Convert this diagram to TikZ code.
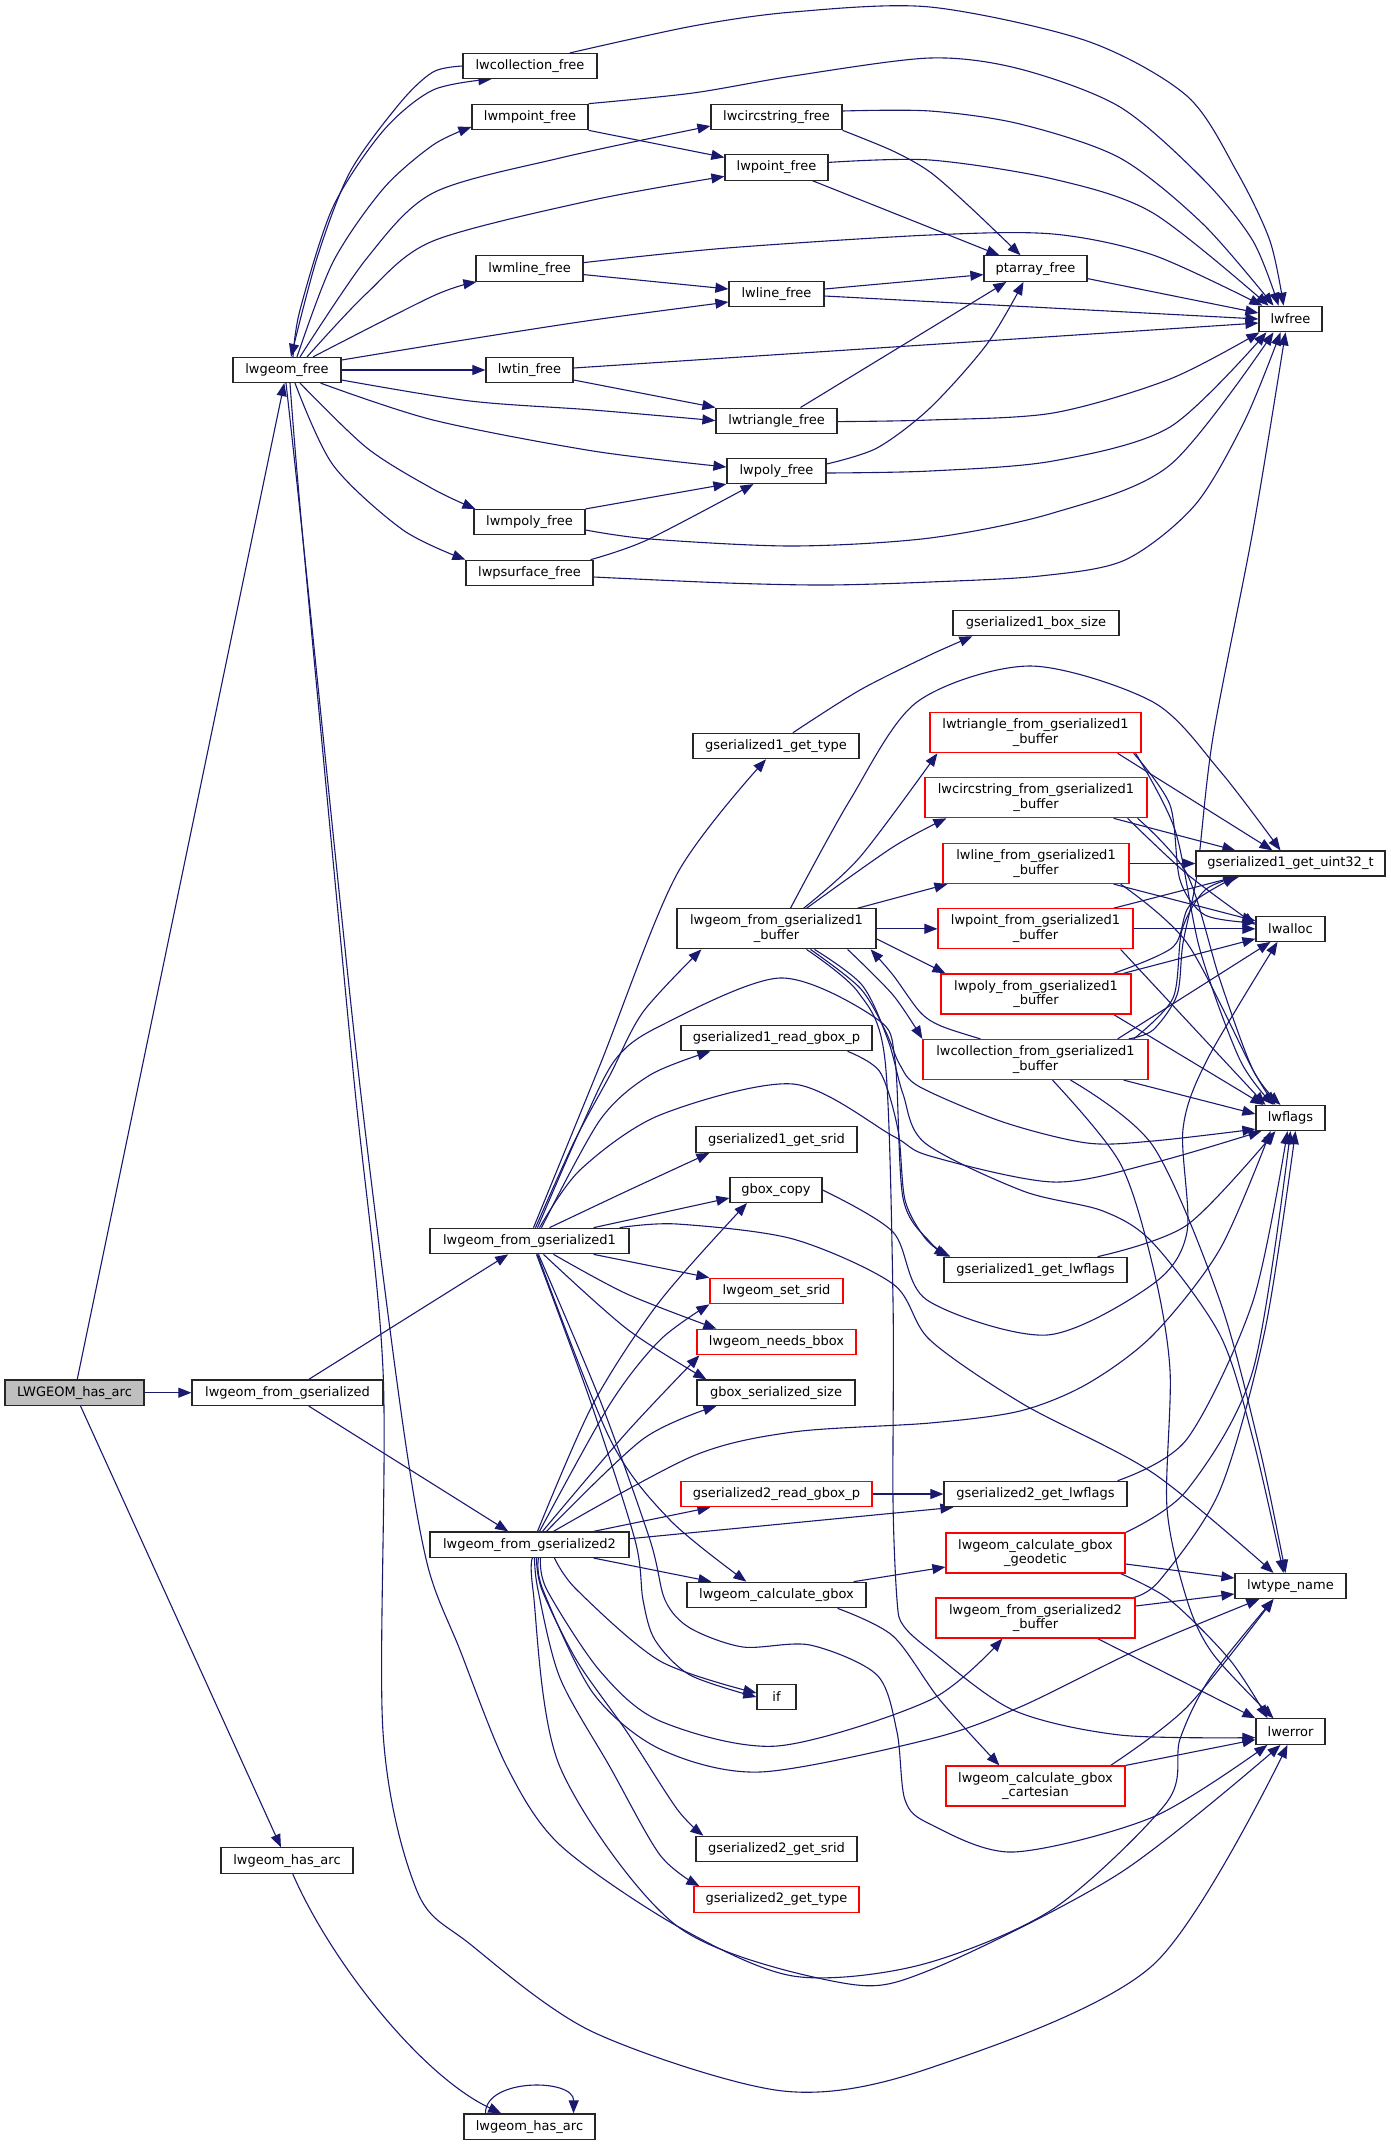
\documentclass[tikz,border=0pt]{standalone}
\usepackage{fontspec}
\setmainfont{DejaVu Sans}
\usetikzlibrary{arrows.meta,calc}
\definecolor{edgecol}{HTML}{191970}
\definecolor{boxgray}{HTML}{BFBFBF}
\definecolor{boxred}{HTML}{FF0000}
\newcommand\gfont{\fontsize{13}{14.5}\selectfont}
\newcommand\bx[6]{\node[nb,minimum width=#4,minimum height=#5] (#1) at (#2,#3) {#6};}
\newcommand\rbx[6]{\node[nb,draw=boxred,minimum width=#4,minimum height=#5] (#1) at (#2,#3) {#6};}
\newcommand\pedge[1]{\draw[edg] plot[smooth] coordinates {#1};}
\pgfdeclarelayer{bg}
\pgfsetlayers{bg,main}
\begin{document}
\begin{tikzpicture}[x=1pt,y=-1pt,
  nb/.style={draw=black!85,line width=1.2pt,fill=white,inner sep=0pt,align=center,font=\gfont},
  edg/.style={draw=edgecol,line width=1.1pt,-{Triangle[length=13pt,width=10pt]}}]
\useasboundingbox (0,0) rectangle (1391,2145);
% nodes
\node[nb,fill=boxgray,minimum width=139,minimum height=25.5] (LHA) at (74.5,1392.7) {LWGEOM\_has\_arc};
\bx{lfree}{287}{370}{108}{25}{lwgeom\_free}
\bx{lfg}{287.5}{1392.7}{191}{25.5}{lwgeom\_from\_gserialized}
\bx{lha1}{287}{1860.6}{132}{25.5}{lwgeom\_has\_arc}
\bx{collf}{530}{66}{134}{25}{lwcollection\_free}
\bx{mpointf}{530}{117}{116}{25.5}{lwmpoint\_free}
\bx{mlinef}{529.5}{268.6}{107}{25.5}{lwmline\_free}
\bx{tinf}{529.5}{370}{87}{25}{lwtin\_free}
\bx{mpolyf}{529.5}{522}{111}{25}{lwmpoly\_free}
\bx{psurff}{529.5}{573}{127}{25.5}{lwpsurface\_free}
\bx{lfg1}{529.5}{1241}{199}{25.5}{lwgeom\_from\_gserialized1}
\bx{lfg2}{529.5}{1544.7}{199}{25.5}{lwgeom\_from\_gserialized2}
\bx{lha2}{529.5}{2126.7}{131}{25.5}{lwgeom\_has\_arc}
\bx{circf}{776.5}{117}{131}{25.5}{lwcircstring\_free}
\bx{pointf}{776.5}{167.4}{103}{25.5}{lwpoint\_free}
\bx{linef}{776.5}{294}{95}{25}{lwline\_free}
\bx{trif}{776.5}{420.6}{121}{25}{lwtriangle\_free}
\bx{polyf}{776.5}{471}{99}{25}{lwpoly\_free}
\bx{g1type}{776}{746}{166}{25.5}{gserialized1\_get\_type}
\bx{g1buf}{776.5}{928.8}{199}{40}{lwgeom\_from\_gserialized1\\\_buffer}
\bx{g1rgb}{776.5}{1038}{191}{25.5}{gserialized1\_read\_gbox\_p}
\bx{g1srid}{776.5}{1139.6}{161}{25.5}{gserialized1\_get\_srid}
\bx{gcopy}{776}{1190}{92}{25}{gbox\_copy}
\rbx{setsrid}{776.5}{1291}{133}{25.5}{lwgeom\_set\_srid}
\rbx{needsbbox}{776.5}{1342}{159}{25.5}{lwgeom\_needs\_bbox}
\bx{gbsize}{776}{1392.7}{158}{25.5}{gbox\_serialized\_size}
\rbx{g2rgb}{776.5}{1494}{191}{25.5}{gserialized2\_read\_gbox\_p}
\bx{calcgbox}{776.5}{1595}{179}{25.5}{lwgeom\_calculate\_gbox}
\bx{ifn}{776.5}{1697}{39}{25.5}{if}
\bx{g2srid}{776.5}{1849}{161}{25.5}{gserialized2\_get\_srid}
\rbx{g2type}{776.5}{1899.4}{165}{25.5}{gserialized2\_get\_type}
\bx{ptaf}{1035.5}{268.6}{103}{25.5}{ptarray\_free}
\bx{g1bsize}{1036}{623}{166}{25.5}{gserialized1\_box\_size}
\rbx{trifrom}{1035.5}{732.7}{211}{40}{lwtriangle\_from\_gserialized1\\\_buffer}
\rbx{circfrom}{1036}{797.7}{222}{40}{lwcircstring\_from\_gserialized1\\\_buffer}
\rbx{linefrom}{1036}{863.5}{186}{40}{lwline\_from\_gserialized1\\\_buffer}
\rbx{pointfrom}{1035.5}{928.8}{195}{40}{lwpoint\_from\_gserialized1\\\_buffer}
\rbx{polyfrom}{1036}{993.9}{190}{40}{lwpoly\_from\_gserialized1\\\_buffer}
\rbx{collfrom}{1035.5}{1059.5}{225}{40}{lwcollection\_from\_gserialized1\\\_buffer}
\bx{g1lwf}{1035.5}{1270}{183}{25.5}{gserialized1\_get\_lwflags}
\bx{g2lwf}{1035.5}{1494}{183}{25.5}{gserialized2\_get\_lwflags}
\rbx{geod}{1035.5}{1553}{179}{40}{lwgeom\_calculate\_gbox\\\_geodetic}
\rbx{g2buf}{1035.5}{1618}{199}{40}{lwgeom\_from\_gserialized2\\\_buffer}
\rbx{cart}{1035.5}{1786}{179}{40}{lwgeom\_calculate\_gbox\\\_cartesian}
\bx{lwfree}{1290.5}{319}{63}{25.5}{lwfree}
\bx{uint32}{1290.5}{863.5}{189}{25}{gserialized1\_get\_uint32\_t}
\bx{lwalloc}{1290.5}{928.8}{69}{25}{lwalloc}
\bx{lwflags}{1290.5}{1118}{69}{25}{lwflags}
\bx{ltn}{1290.5}{1586}{111}{25}{lwtype\_name}
\bx{lwerror}{1290.5}{1731.6}{69}{25.5}{lwerror}
\begin{pgfonlayer}{bg}
% lwgeom_free out
\pedge{($(lfree.north)+(6,0)$) (300,310) (333,207) (383,131) (433,90) ($(collf.south west)+(29,0)$)}
\pedge{(collf.west) (433,72) (400,103) (350,172) (317,258) ($(lfree.north)+(4,0)$)}
\pedge{($(lfree.north)+(10,0)$) (333,262) (383,189) (433,145) ($(mpointf.west)+(0,10)$)}
\pedge{($(lfree.north)+(13,0)$) (367,258) (433,193) (560,158) ($(circf.west)+(0,9)$)}
\pedge{($(lfree.north)+(20,0)$) (367,293) (433,241) (593,200) ($(pointf.west)+(0,9)$)}
\pedge{($(lfree.north)+(26,0)$) (433,296) ($(mlinef.south west)+(1,0)$)}
\pedge{($(lfree.east)+(0,-10)$) (470,339) (593,320) ($(linef.west)+(0,8)$)}
\draw[edg] (lfree) -- (tinf);
\pedge{($(lfree.east)+(0,10)$) (470,401) (593,410) (trif.west)}
\pedge{($(lfree.south east)+(-21,0)$) (433,420) (593,451) ($(polyf.west)+(0,-4)$)}
\pedge{($(lfree.south)+(13,0)$) (367,448) (433,489) ($(mpolyf.north west)+(2,0)$)}
\pedge{($(lfree.south)+(8,0)$) (333,465) (403,530) (psurff.north west)}
\pedge{($(lfree.south)+(3,0)$) (303,540) (353,1070) (383,1370) (383,1732) (417,1891) (470,1944) (593,2032) (783,2091) (930,2068) (1153,1965) ($(lwerror.south)+(-3,0)$)}
\pedge{($(lfree.south)+(-1,0)$) (303,540) (357,1060) (400,1404) (427,1563) (460,1650) (507,1767) (560,1845) (677,1926) (793,1976) (920,1965) (1053,1909) (1167,1802) (1180,1739) (1210,1678) ($(ltn.south)+(-17,0)$)}
% free functions
\pedge{($(collf.north)+(40,0)$) (693,26) (793,12) (930,7) (1087,41) (1187,96) (1237,172) (1270,241) ($(lwfree.north)+(-7,0)$)}
\pedge{(mpointf.north east) (693,93) (793,76) (930,58) (1020,69) (1120,107) (1203,179) (1253,241) ($(lwfree.north)+(-12,0)$)}
\pedge{($(circf.east)+(0,-6)$) (930,111) (1020,124) (1120,158) (1203,224) ($(lwfree.north)+(-17,0)$)}
\pedge{($(pointf.east)+(0,-5)$) (930,160) (1053,179) (1153,213) ($(lwfree.north)+(-22,0)$)}
\pedge{($(mlinef.east)+(0,-6)$) (727,248) (930,235) (1053,234) (1153,255) ($(lwfree.north west)+(4,0)$)}
\draw[edg] ($(linef.east)+(0,2)$) -- (lwfree.west);
\draw[edg] ($(linef.east)+(0,-5)$) -- ($(ptaf.west)+(0,6)$);
\draw[edg] ($(ptaf.east)+(0,10)$) -- ($(lwfree.west)+(0,-6)$);
\draw[edg] ($(tinf.east)+(0,-2)$) -- ($(lwfree.west)+(0,4)$);
\draw[edg] ($(tinf.east)+(0,10)$) -- (trif.north west);
\pedge{($(trif.east)+(0,1)$) (930,420) (1053,413) (1170,379) ($(lwfree.south west)+(1,0)$)}
\draw[edg] ($(trif.north)+(24,0)$) -- ($(ptaf.south west)+(23,0)$);
\pedge{($(polyf.east)+(0,2)$) (930,471) (1053,461) (1170,427) ($(lwfree.south west)+(8,0)$)}
\pedge{($(polyf.east)+(0,-7)$) (877,448) (930,408) (987,344) ($(ptaf.south)+(-12,0)$)}
\draw[edg] ($(pointf.south east)+(-16,0)$) -- ($(ptaf.north west)+(16,0)$);
\pedge{(circf.south east) (893,151) (930,172) (970,207) ($(ptaf.north)+(-15,0)$)}
\draw[edg] (mpointf.south east) -- ($(pointf.west)+(0,-10)$);
\draw[edg] ($(mlinef.east)+(0,6)$) -- ($(linef.west)+(0,-5)$);
\draw[edg] (mpolyf.north east) -- (polyf.south west);
\pedge{($(mpolyf.east)+(0,8)$) (650,539) (793,546) (930,538) (1053,513) (1170,465) ($(lwfree.south)+(-17,0)$)}
\pedge{($(psurff.north east)+(-3,0)$) (647,540) ($(polyf.south)+(-23,0)$)}
\pedge{($(psurff.east)+(0,4)$) (727,583) (827,585) (930,582) (1040,576) (1125,560) (1195,505) (1245,420) ($(lwfree.south)+(-10,0)$)}
% LWGEOM_has_arc
\draw[edg] (LHA) -- (lfree);
\draw[edg] (LHA) -- (lfg);
\draw[edg] (LHA) -- (lha1);
\draw[edg] (lha1) .. controls (330,1960) and (420,2075) .. (lha2);
\draw[edg] ($(lha2.north)+(-44,0)$) .. controls (485,2078) and (574,2078) .. ($(lha2.north)+(44,0)$);
\draw[edg] (lfg) -- (lfg1);
\draw[edg] (lfg) -- (lfg2);
% lwgeom_from_gserialized1
\pedge{($(lfg1.north)+(4,0)$) (600,1065) (677,874) ($(g1type.south)+(-10,0)$)}
\pedge{($(lfg1.north)+(6,0)$) (575,1140) (610,1075) (643,1012) ($(g1buf.south west)+(25,0)$)}
\pedge{($(lfg1.north)+(8,0)$) (580,1130) (615,1060) (660,1026) (780,978) (877,1019) (895,1060) (903,1198) (930,1242) ($(g1lwf.north west)+(7,0)$)}
\pedge{($(lfg1.north)+(10,0)$) (580,1170) (660,1115) (793,1084) (893,1136) (930,1156) (1053,1182) (1153,1163) ($(lwflags.south west)+(6,0)$)}
\pedge{($(lfg1.north)+(12,0)$) (600,1120) (650,1075) ($(g1rgb.south west)+(30,0)$)}
\pedge{($(lfg1.north)+(20,0)$) (627,1191) ($(g1srid.south west)+(14,0)$)}
\draw[edg] ($(lfg1.north east)+(-36,0)$) -- ($(gcopy.west)+(0,8)$);
\pedge{($(lfg1.north east)+(-10,0)$) (677,1224) (793,1239) (893,1284) (930,1340) (1023,1404) (1153,1473) ($(ltn.north)+(-17,0)$)}
\draw[edg] ($(lfg1.south east)+(-36,0)$) -- (setsrid.north west);
\pedge{($(lfg1.south)+(24,0)$) (627,1294) ($(needsbbox.north west)+(20,0)$)}
\pedge{($(lfg1.south)+(14,0)$) (627,1329) ($(gbsize.north west)+(10,0)$)}
\pedge{($(lfg1.south)+(8,0)$) (610,1439) (670,1520) ($(calcgbox.north west)+(60,0)$)}
\pedge{($(lfg1.south)+(7,0)$) (590,1400) (635,1540) (643,1600) (655,1640) (690,1675) (ifn.west)}
\pedge{($(lfg1.south)+(9,0)$) (600,1400) (650,1540) (665,1600) (690,1628) (743,1647) (810,1645) (877,1675) (897,1732) (905,1800) (930,1824) (1013,1852) (1153,1817) ($(lwerror.south west)+(12,0)$)}
% lwgeom_from_gserialized2
\pedge{($(lfg2.north)+(8,0)$) (593,1404) (660,1301) ($(gcopy.south)+(-29,0)$)}
\pedge{($(lfg2.north)+(10,0)$) (610,1404) (660,1340) (setsrid.south west)}
\pedge{($(lfg2.north)+(13,0)$) (627,1432) ($(needsbbox.south west)+(3,0)$)}
\pedge{($(lfg2.north)+(17,0)$) (643,1439) ($(gbsize.south west)+(20,0)$)}
\pedge{($(lfg2.north)+(24,0)$) (693,1456) (793,1432) (930,1423) (1020,1411) (1087,1384) (1153,1335) (1220,1249) ($(lwflags.south)+(-20,0)$)}
\draw[edg] ($(lfg2.north east)+(-36,0)$) -- ($(g2rgb.south west)+(30,0)$);
\draw[edg] ($(lfg2.east)+(0,-6)$) -- ($(g2lwf.south west)+(10,0)$);
\draw[edg] ($(lfg2.south east)+(-36,0)$) -- ($(calcgbox.north west)+(25,0)$);
\pedge{($(lfg2.south)+(25,0)$) (577,1590) (660,1661) ($(ifn.west)+(0,-4)$)}
\pedge{($(lfg2.south)+(11,0)$) (547,1590) (600,1671) (660,1721) (777,1746) (930,1700) ($(g2buf.south west)+(67,0)$)}
\pedge{($(lfg2.south)+(9,0)$) (543,1590) (593,1693) (660,1749) (760,1772) (930,1739) (1020,1707) (1137,1650) ($(ltn.south west)+(25,0)$)}
\pedge{($(lfg2.south)+(7,0)$) (542,1590) (577,1661) (627,1732) (677,1809) ($(g2srid.north west)+(8,0)$)}
\pedge{($(lfg2.south)+(5,0)$) (538,1590) (560,1678) (610,1767) (660,1855) ($(g2type.north west)+(6,0)$)}
\pedge{($(lfg2.south)+(3,0)$) (533,1590) (560,1767) (677,1926) (843,1983) (930,1970) (1120,1873) ($(lwerror.south)+(-10,0)$)}
% lwgeom_from_gserialized1_buffer
\pedge{($(g1buf.north)+(14,0)$) (850,800) (917,702) (1030,666) (1153,702) (1220,771) ($(uint32.north)+(-10,0)$)}
\pedge{($(g1buf.north east)+(-73,0)$) (860,857) ($(trifrom.south west)+(8,0)$)}
\pedge{($(g1buf.north east)+(-70,0)$) (893,847) ($(circfrom.south west)+(22,0)$)}
\draw[edg] ($(g1buf.north east)+(-19,0)$) -- ($(linefrom.south west)+(5,0)$);
\draw[edg] (g1buf) -- (pointfrom);
\draw[edg] ($(g1buf.east)+(0,10)$) -- ($(polyfrom.north west)+(5,0)$);
\pedge{($(g1buf.south east)+(-29,0)$) (893,995) (collfrom.north west)}
\pedge{($(collfrom.north)+(-55,0)$) (941,1026) (920,1012) (893,975) ($(g1buf.south east)+(-6,0)$)}
\pedge{($(g1buf.south)+(34,0)$) (860,988) (885,1030) (900,1065) (920,1087) (1003,1122) (1087,1143) (1153,1141) ($(lwflags.south west)+(0,-2)$)}
\pedge{($(g1buf.south)+(38,0)$) (862,985) (888,1040) (903,1094) (925,1143) (1023,1191) (1103,1211) (1153,1243) (1220,1335) (1253,1439) ($(ltn.north)+(-7,0)$)}
\pedge{($(g1buf.south)+(30,0)$) (858,992) (885,1060) (893,1300) (893,1500) (897,1600) (903,1625) (930,1650) (1013,1710) (1120,1735) ($(lwerror.west)+(0,6)$)}
% *_from_gserialized1_buffer
\draw[edg] ($(trifrom.south east)+(-24,0)$) -- ($(uint32.north)+(-18,0)$);
\pedge{($(trifrom.south east)+(-8,0)$) (1170,805) (1180,880) (1205,915) ($(lwalloc.west)+(0,-6)$)}
\pedge{($(trifrom.south east)+(-6,0)$) (1175,830) (1200,950) (1240,1060) ($(lwflags.north)+(-17,0)$)}
\draw[edg] ($(circfrom.south east)+(-34,0)$) -- ($(uint32.north west)+(40,0)$);
\pedge{($(circfrom.south east)+(-20,0)$) (1187,874) ($(lwalloc.west)+(0,-4)$)}
\pedge{($(circfrom.south east)+(-10,0)$) (1187,874) (1220,980) (1253,1070) ($(lwflags.north)+(-10,0)$)}
\draw[edg] (linefrom) -- (uint32);
\draw[edg] ($(linefrom.south east)+(-16,0)$) -- ($(lwalloc.west)+(0,-8)$);
\pedge{($(linefrom.south east)+(-9,0)$) (1187,943) (1253,1070) ($(lwflags.north)+(-15,0)$)}
\draw[edg] ($(pointfrom.north east)+(-20,0)$) -- ($(uint32.south west)+(41,0)$);
\draw[edg] (pointfrom) -- (lwalloc);
\draw[edg] ($(pointfrom.south east)+(-13,0)$) -- ($(lwflags.north west)+(10,0)$);
\pedge{($(polyfrom.north east)+(-18,0)$) (1173,947) (1190,905) ($(uint32.south west)+(41,0)$)}
\draw[edg] ($(polyfrom.north east)+(-8,0)$) -- ($(lwalloc.west)+(0,10)$);
\draw[edg] ($(polyfrom.south east)+(-18,0)$) -- ($(lwflags.north)+(-27,0)$);
\pedge{($(collfrom.north east)+(-15,0)$) (1173,998) (1182,930) (1205,890) ($(uint32.south west)+(44,0)$)}
\draw[edg] ($(collfrom.north east)+(-31,0)$) -- ($(lwalloc.south)+(-20,0)$);
\draw[edg] ($(collfrom.south east)+(-25,0)$) -- ($(lwflags.west)+(0,-4)$);
\pedge{($(collfrom.south)+(17,0)$) (1120,1163) (1153,1267) (1170,1370) (1167,1508) (1187,1600) (1213,1654) ($(lwerror.north)+(-17,0)$)}
\pedge{($(collfrom.south)+(35,0)$) (1153,1146) (1220,1301) (1260,1450) ($(ltn.north)+(-5,0)$)}
\pedge{($(collfrom.north east)+(-20,0)$) (1153,1030) (1177,995) (1183,943) (1197,874) (1213,737) (1253,530) ($(lwfree.south)+(-5,0)$)}
% others
\pedge{($(g1type.north)+(17,0)$) (860,690) (930,655) ($(g1bsize.south west)+(20,0)$)}
\pedge{($(g1rgb.south east)+(-25,0)$) (880,1072) (898,1130) (905,1200) (925,1238) ($(g1lwf.north west)+(4,0)$)}
\pedge{($(g1lwf.north east)+(-30,0)$) (1187,1225) ($(lwflags.south)+(-15,0)$)}
\draw[edg] (g2rgb) -- (g2lwf);
\pedge{($(g2lwf.north east)+(-10,0)$) (1187,1439) (1253,1301) ($(lwflags.south)+(-3,0)$)}
\pedge{(geod.north east) (1187,1490) (1253,1370) (lwflags.south)}
\draw[edg] ($(geod.east)+(0,11)$) -- ($(ltn.west)+(0,-8)$);
\pedge{($(geod.south east)+(-5,0)$) (1170,1600) (1230,1660) ($(lwerror.north)+(-23,0)$)}
\draw[edg] ($(calcgbox.north east)+(-13,0)$) -- ($(geod.west)+(0,14)$);
\pedge{($(calcgbox.south east)+(-29,0)$) (893,1636) (940,1700) ($(cart.north west)+(54,0)$)}
\pedge{($(g2buf.north east)+(-2,0)$) (1160,1580) (1220,1490) (1265,1330) ($(lwflags.south)+(5,0)$)}
\draw[edg] ($(g2buf.east)+(0,-12)$) -- ($(ltn.west)+(0,8)$);
\draw[edg] ($(g2buf.south east)+(-38,0)$) -- (lwerror.north west);
\pedge{($(cart.north east)+(-15,0)$) (1187,1707) ($(ltn.south)+(-17,0)$)}
\draw[edg] (cart.north east) -- ($(lwerror.west)+(0,8)$);
\pedge{(gcopy.east) (893,1232) (927,1300) (1047,1335) (1153,1284) (1187,1232) (1183,1129) (1207,1060) ($(lwalloc.south)+(-13,0)$)}
\end{pgfonlayer}
\end{tikzpicture}
\end{document}
